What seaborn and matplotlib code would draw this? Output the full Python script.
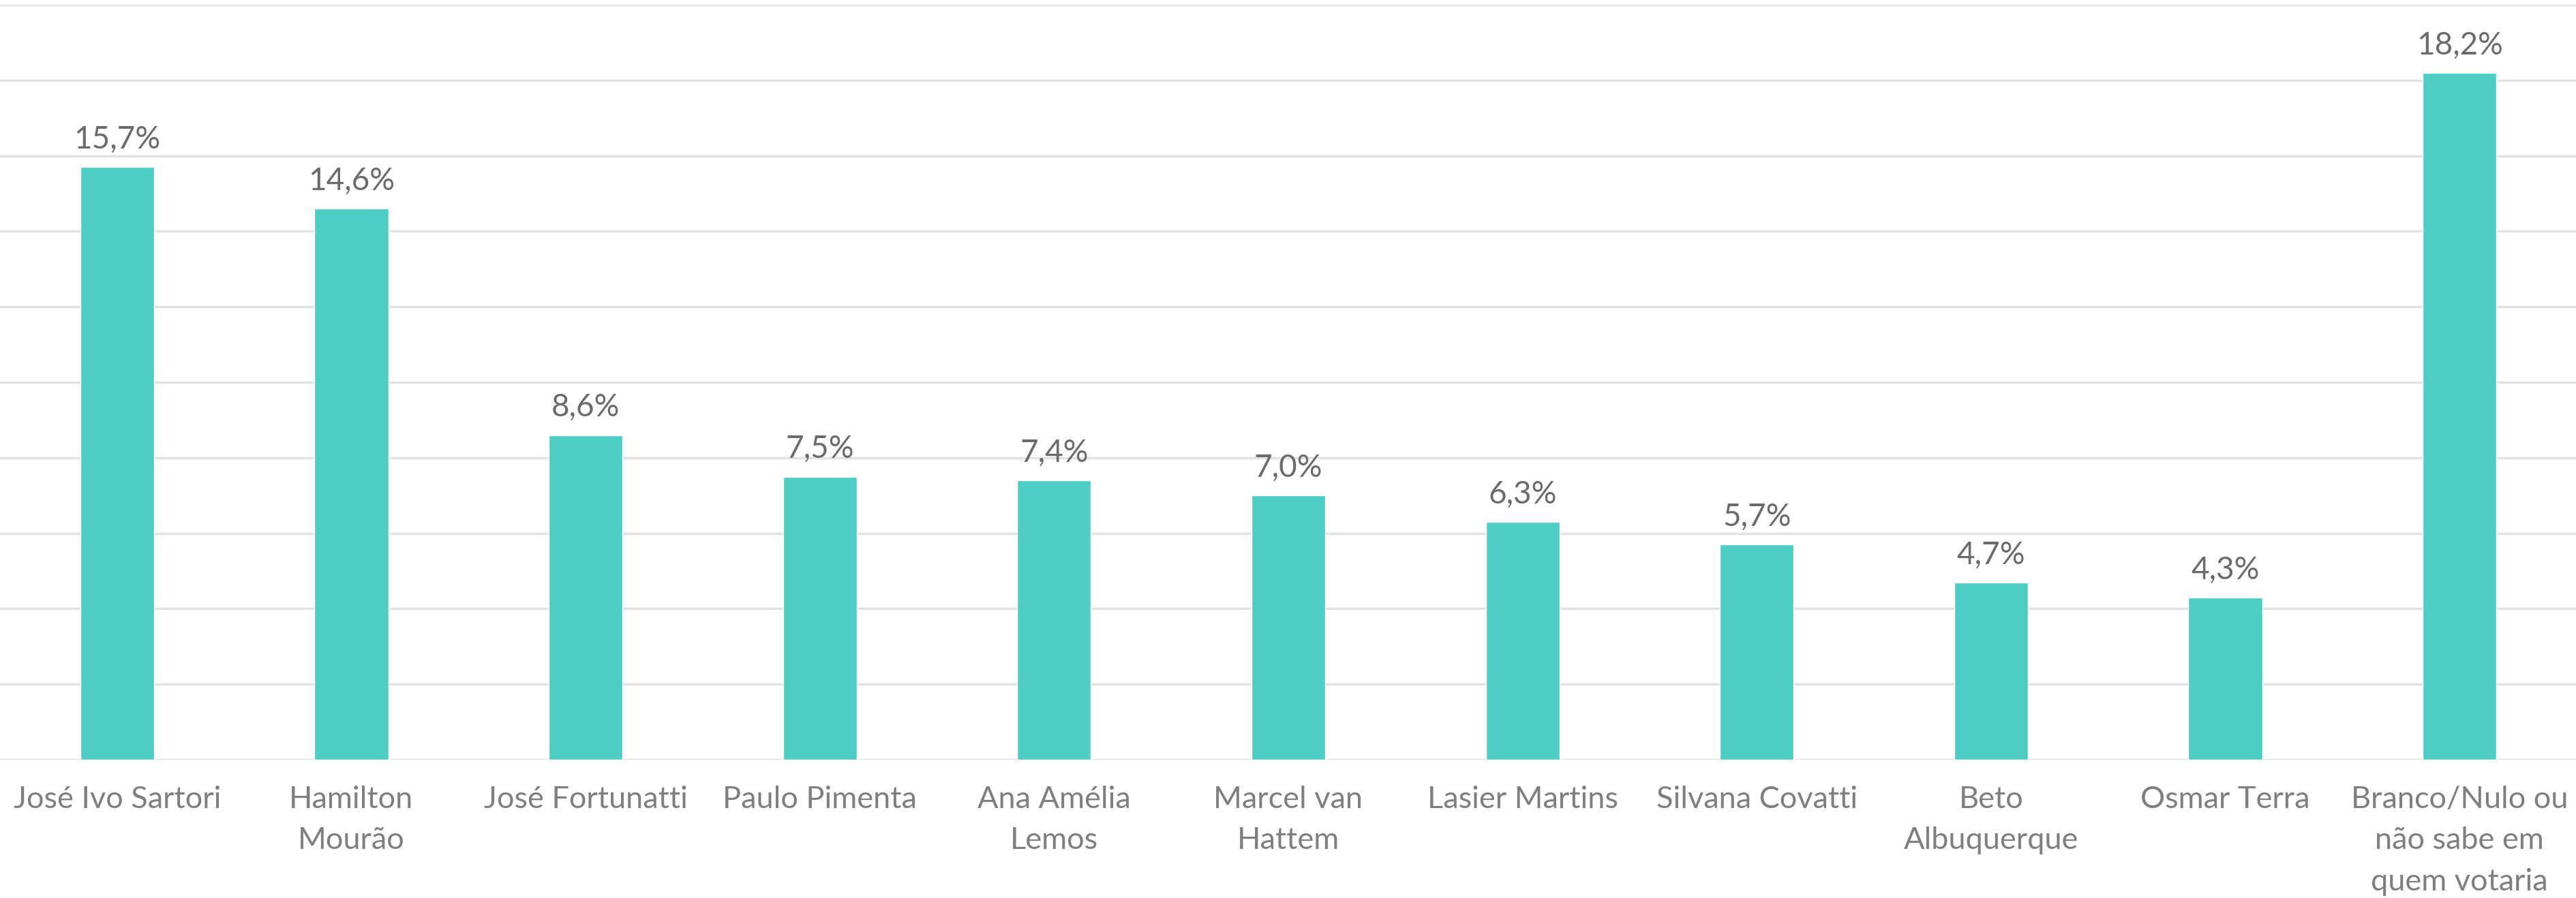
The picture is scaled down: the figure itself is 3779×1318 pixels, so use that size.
import matplotlib
matplotlib.use("Agg")
import matplotlib.pyplot as plt
import seaborn as sns

candidatos = ["José Ivo Sartori", "Hamilton\nMourão", "José Fortunatti", "Paulo Pimenta",
              "Ana Amélia\nLemos", "Marcel van\nHattem", "Lasier Martins", "Silvana Covatti",
              "Beto\nAlbuquerque", "Osmar Terra", "Branco/Nulo ou\nnão sabe em\nquem votaria"]
votos = [15.7, 14.6, 8.6, 7.5, 7.4, 7.0, 6.3, 5.7, 4.7, 4.3, 18.2]

sns.set_style("white")
plt.rcParams['font.family'] = ['Lato', 'DejaVu Sans']

fig = plt.figure(figsize=(37.8, 13.18), dpi=100)
ax = fig.add_axes([0, 0.154, 1, 0.8407])

sns.barplot(x=candidatos, y=votos, color="#4ECDC4", saturation=1, width=0.315, ax=ax, zorder=3)

ax.set_ylim(0, 20)
ax.set_xlim(-0.5, len(candidatos) - 0.5)
ax.set_yticks(range(0, 21, 2))
ax.yaxis.grid(True, color="#E2E2E2", linewidth=2.5, zorder=0)
ax.set_yticklabels([])
ax.tick_params(axis='y', length=0)
ax.tick_params(axis='x', length=0, pad=27, labelsize=32.5, labelcolor="#7F7F7F")
for lbl in ax.get_xticklabels():
    lbl.set_linespacing(1.6)
    lbl.set_verticalalignment('top')
for s in ax.spines.values():
    s.set_visible(False)

for i, v in enumerate(votos):
    ax.text(i, v + 0.35, f"{v:.1f}%".replace(".", ","), ha='center', va='bottom',
            fontsize=33, color="#6B6B6B")

fig.savefig("out.png", dpi=100)
